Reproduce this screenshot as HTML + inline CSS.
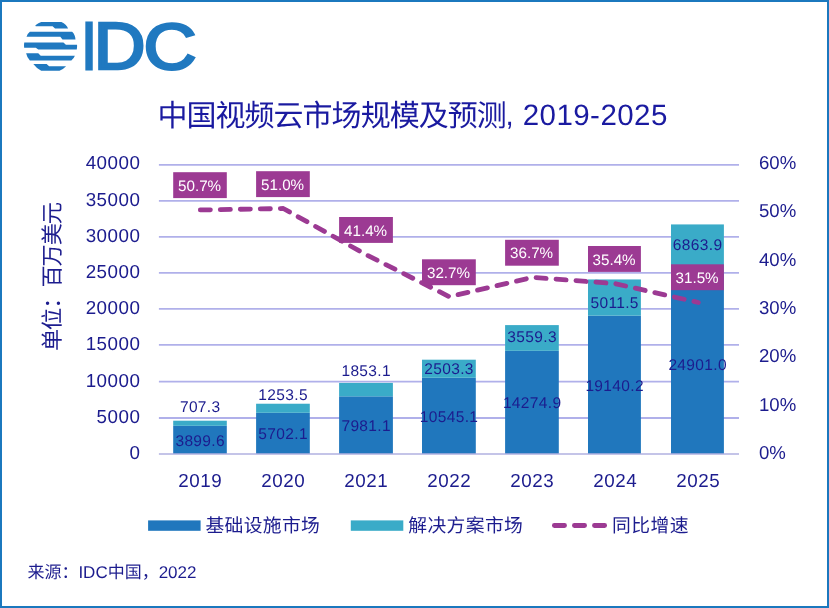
<!DOCTYPE html>
<html lang="zh-CN"><head><meta charset="utf-8"><title>中国视频云市场规模及预测, 2019-2025</title>
<style>html,body{margin:0;padding:0;background:#fff;}body{width:829px;height:608px;overflow:hidden;}svg{display:block;}text{font-family:"Liberation Sans", "Noto Sans CJK SC", sans-serif;text-rendering:geometricPrecision;}</style>
</head><body>
<svg width="829" height="608" viewBox="0 0 829 608">
<rect x="0" y="0" width="829" height="608" fill="#ffffff"/>
<rect x="1" y="1" width="827" height="606" fill="none" stroke="#1b78be" stroke-width="2"/>
<path d="M41.22,22.12 L61.46,22.12 Q66.40,24.39 68.08,28.54 L55.04,28.54 L52.58,26.37 L35.79,26.37 Q34.81,25.87 35.79,25.08 Q38.26,23.11 41.22,22.12Z" fill="#2079c0"/>
<path d="M29.87,31.79 L72.12,31.79 Q75.28,34.76 75.48,39.40 L62.45,39.40 L60.28,36.73 L26.52,36.73 Q27.11,33.97 29.87,31.79Z" fill="#2079c0"/>
<path d="M24.24,42.46 L63.44,42.46 L65.90,44.83 L77.06,44.83 Q77.26,47.10 76.76,49.56 L38.26,49.56 L35.79,47.79 L24.15,47.79 Q23.75,45.12 24.24,42.46Z" fill="#2079c0"/>
<path d="M26.12,53.31 L38.26,53.31 L40.73,55.68 L74.89,55.68 Q73.80,58.45 71.33,60.52 L29.87,60.52 Q26.91,57.46 26.12,53.31Z" fill="#2079c0"/>
<path d="M33.33,64.08 L46.65,64.08 L49.12,66.35 L66.10,66.35 Q63.44,69.31 59.49,70.69 L41.22,70.69 Q36.78,68.81 33.33,64.08Z" fill="#2079c0"/>
<g fill="#2079c0" stroke="#2079c0" stroke-linejoin="miter">
<text transform="translate(81.75,69.40) scale(0.5254,0.6657)" font-size="100px" stroke-width="4.70">I</text>
<text transform="translate(93.83,69.40) scale(0.7159,0.6657)" font-size="100px" stroke-width="4.05">D</text>
<text transform="translate(143.56,68.96) scale(0.7358,0.6525)" font-size="100px" stroke-width="4.03">C</text>
</g>
<text x="157.4" y="125.7" font-size="30px" fill="#1a1aa0" textLength="349.4" lengthAdjust="spacing">中国视频云市场规模及预测</text>
<text x="505.4" y="125.0" font-size="29.5px" fill="#1a1aa0" letter-spacing="0.45">, 2019-2025</text>
<line x1="158.9" y1="164.90" x2="739.0" y2="164.90" stroke="#b0b0ea" stroke-width="1.8"/>
<line x1="158.9" y1="200.90" x2="739.0" y2="200.90" stroke="#b0b0ea" stroke-width="1.8"/>
<line x1="158.9" y1="236.80" x2="739.0" y2="236.80" stroke="#b0b0ea" stroke-width="1.8"/>
<line x1="158.9" y1="272.80" x2="739.0" y2="272.80" stroke="#b0b0ea" stroke-width="1.8"/>
<line x1="158.9" y1="308.80" x2="739.0" y2="308.80" stroke="#b0b0ea" stroke-width="1.8"/>
<line x1="158.9" y1="344.90" x2="739.0" y2="344.90" stroke="#b0b0ea" stroke-width="1.8"/>
<line x1="158.9" y1="381.70" x2="739.0" y2="381.70" stroke="#b0b0ea" stroke-width="1.8"/>
<line x1="158.9" y1="418.00" x2="739.0" y2="418.00" stroke="#b0b0ea" stroke-width="1.8"/>
<rect x="173.20" y="425.82" width="53.60" height="28.18" fill="#2077bd"/>
<rect x="173.20" y="420.70" width="53.60" height="5.11" fill="#3aabc8"/>
<rect x="256.10" y="412.79" width="53.70" height="41.21" fill="#2077bd"/>
<rect x="256.10" y="403.73" width="53.70" height="9.06" fill="#3aabc8"/>
<rect x="339.10" y="396.32" width="53.80" height="57.68" fill="#2077bd"/>
<rect x="339.10" y="382.92" width="53.80" height="13.39" fill="#3aabc8"/>
<rect x="422.00" y="377.79" width="53.80" height="76.21" fill="#2077bd"/>
<rect x="422.00" y="359.69" width="53.80" height="18.09" fill="#3aabc8"/>
<rect x="505.10" y="350.83" width="53.70" height="103.17" fill="#2077bd"/>
<rect x="505.10" y="325.10" width="53.70" height="25.72" fill="#3aabc8"/>
<rect x="588.00" y="315.66" width="52.90" height="138.34" fill="#2077bd"/>
<rect x="588.00" y="279.44" width="52.90" height="36.22" fill="#3aabc8"/>
<rect x="671.00" y="274.03" width="52.90" height="179.97" fill="#2077bd"/>
<rect x="671.00" y="224.42" width="52.90" height="49.61" fill="#3aabc8"/>
<line x1="158.9" y1="454.00" x2="739.0" y2="454.00" stroke="#b0b0e0" stroke-width="1.6"/>
<g font-size="18.8px" fill="#1c1c8e" letter-spacing="0.50">
<text x="140.40" y="169.45" text-anchor="end">40000</text>
<text x="140.40" y="205.65" text-anchor="end">35000</text>
<text x="140.40" y="241.85" text-anchor="end">30000</text>
<text x="140.40" y="278.05" text-anchor="end">25000</text>
<text x="140.40" y="314.25" text-anchor="end">20000</text>
<text x="140.40" y="350.45" text-anchor="end">15000</text>
<text x="140.40" y="386.65" text-anchor="end">10000</text>
<text x="140.40" y="422.85" text-anchor="end">5000</text>
<text x="140.40" y="459.05" text-anchor="end">0</text>
</g>
<g font-size="18.6px" fill="#1c1c8e">
<text x="759.0" y="169.20">60%</text>
<text x="759.0" y="217.47">50%</text>
<text x="759.0" y="265.74">40%</text>
<text x="759.0" y="314.01">30%</text>
<text x="759.0" y="362.28">20%</text>
<text x="759.0" y="410.55">10%</text>
<text x="759.0" y="458.82">0%</text>
</g>
<g font-size="18.8px" fill="#1c1c8e" letter-spacing="0.50">
<text x="200.25" y="486.9" text-anchor="middle">2019</text>
<text x="283.25" y="486.9" text-anchor="middle">2020</text>
<text x="366.25" y="486.9" text-anchor="middle">2021</text>
<text x="449.25" y="486.9" text-anchor="middle">2022</text>
<text x="532.25" y="486.9" text-anchor="middle">2023</text>
<text x="615.25" y="486.9" text-anchor="middle">2024</text>
<text x="698.25" y="486.9" text-anchor="middle">2025</text>
</g>
<text transform="translate(59.7,351.0) rotate(-90)" font-size="22.2px" fill="#1c1c8e" textLength="149" lengthAdjust="spacing">单位：百万美元</text>
<g font-size="15.5px" fill="#1c1c8e" text-anchor="middle" letter-spacing="0.35">
<text x="200.18" y="445.60">3899.6</text>
<text x="200.18" y="412.30">707.3</text>
<text x="283.13" y="439.40">5702.1</text>
<text x="283.13" y="400.00">1253.5</text>
<text x="366.18" y="430.50">7981.1</text>
<text x="366.18" y="375.90">1853.1</text>
<text x="449.08" y="421.70">10545.1</text>
<text x="449.08" y="374.00">2503.3</text>
<text x="532.13" y="407.70">14274.9</text>
<text x="532.13" y="342.20">3559.3</text>
<text x="614.63" y="391.20">19140.2</text>
<text x="614.63" y="307.60">5011.5</text>
<text x="697.63" y="369.90">24901.0</text>
<text x="697.63" y="249.60">6863.9</text>
</g>
<polyline points="200.30,209.96 283.30,208.51 366.30,254.77 449.30,296.69 532.30,277.42 615.30,283.68 698.30,302.47" fill="none" stroke="#9c3a93" stroke-width="4.8" stroke-linecap="round" stroke-linejoin="round" stroke-dasharray="10.1 9.9"/>
<g font-size="15.2px" fill="#ffffff" text-anchor="middle">
<rect x="173.2" y="172.2" width="53.6" height="25.9" fill="#9c3a93"/>
<text x="199.6" y="190.8">50.7%</text>
<rect x="256.1" y="171.2" width="53.7" height="25.9" fill="#9c3a93"/>
<text x="282.6" y="189.8">51.0%</text>
<rect x="339.1" y="217.0" width="53.8" height="25.9" fill="#9c3a93"/>
<text x="365.6" y="235.7">41.4%</text>
<rect x="422.0" y="259.3" width="53.8" height="25.9" fill="#9c3a93"/>
<text x="448.5" y="277.9">32.7%</text>
<rect x="505.1" y="239.8" width="53.7" height="25.9" fill="#9c3a93"/>
<text x="531.6" y="258.4">36.7%</text>
<rect x="588.0" y="246.0" width="52.9" height="25.9" fill="#9c3a93"/>
<text x="614.1" y="264.6">35.4%</text>
<rect x="671.0" y="264.3" width="52.9" height="25.9" fill="#9c3a93"/>
<text x="697.1" y="282.9">31.5%</text>
</g>
<rect x="148.1" y="520.4" width="52.5" height="10.4" fill="#2077bd"/>
<rect x="350.8" y="520.4" width="52.5" height="10.4" fill="#3aabc8"/>
<line x1="554.4" y1="525.55" x2="604.7" y2="525.55" stroke="#9c3a93" stroke-width="4.9" stroke-linecap="round" stroke-dasharray="10.1 9.95"/>
<g font-size="18.8px" fill="#1c1c8e">
<text x="205.4" y="531.9" textLength="114.5" lengthAdjust="spacing">基础设施市场</text>
<text x="408.3" y="531.9" textLength="114.5" lengthAdjust="spacing">解决方案市场</text>
<text x="612.0" y="531.9" textLength="76.6" lengthAdjust="spacing">同比增速</text>
</g>
<text x="27.4" y="577.6" font-size="17px" fill="#1c1c8e">来源：IDC中国，2022</text>
</svg></body></html>
